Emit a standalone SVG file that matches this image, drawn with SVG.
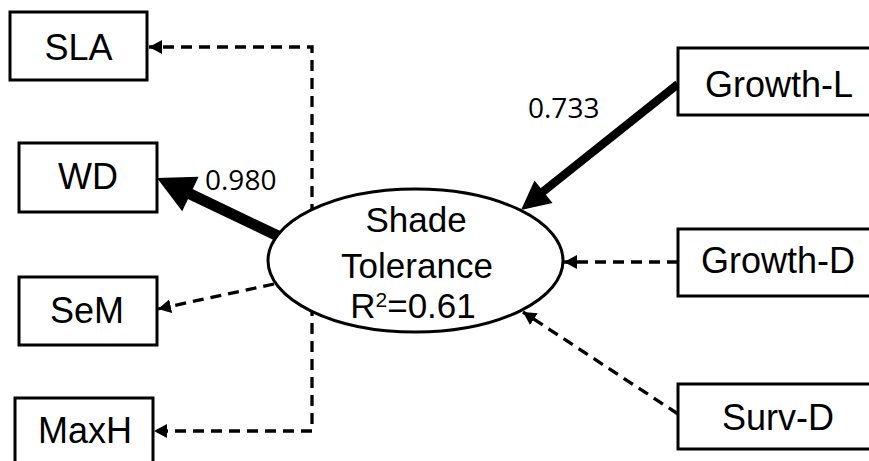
<svg xmlns="http://www.w3.org/2000/svg" width="869" height="461" viewBox="0 0 869 461">
<style>
.box{fill:#fff;stroke:#000;stroke-width:3}
.lbl{font-family:"Liberation Sans",Arial,sans-serif;font-size:36px;fill:#000;text-anchor:middle}
.el{font-family:"Liberation Sans",Arial,sans-serif;font-size:35px;fill:#000;text-anchor:middle}
.num{font-family:"Open Sans","Noto Sans",sans-serif;font-size:28px;fill:#000}
.dash{fill:none;stroke:#000;stroke-width:3.3;stroke-dasharray:11 7;marker-end:url(#ah)}
.thick{stroke:#000;fill:none}
.head{fill:#000}
</style>
<defs>
<marker id="ah" markerUnits="userSpaceOnUse" markerWidth="14" markerHeight="14" refX="13" refY="7" orient="auto">
<path d="M0,0 L13,7 L0,14 z" fill="#000"/>
</marker>
</defs>
<g id="connectors">
<path class="dash" d="M312,215 V47 H149"/>
<path class="dash" d="M312,305 V431 H154"/>
<path class="dash" d="M274,284 L158,309"/>
<path class="dash" d="M678,262 H564"/>
<path class="dash" d="M678,414 L523,312"/>
<path class="thick" stroke-width="11" d="M278,236 L186,192"/>
<polygon class="head" points="157,178 198.6,176.8 182.2,211.2"/>
<path class="thick" stroke-width="8.5" d="M678,84 L540,194"/>
<polygon class="head" points="521,210 534.5,180.5 552.5,203"/>
</g>
<g id="SLA"><rect class="box" x="10" y="12" width="137" height="68"/><text class="lbl" x="78.5" y="60">SLA</text></g>
<g id="WD"><rect class="box" x="19" y="143" width="138" height="69"/><text class="lbl" x="88" y="189">WD</text></g>
<g id="SeM"><rect class="box" x="19" y="277" width="138" height="68"/><text class="lbl" x="87" y="323">SeM</text></g>
<g id="MaxH"><rect class="box" x="15" y="398" width="138" height="80"/><text class="lbl" x="85" y="443">MaxH</text></g>
<g id="GrowthL"><rect class="box" x="678" y="48" width="210" height="67"/><text class="lbl" x="779" y="97">Growth-L</text></g>
<g id="GrowthD"><rect class="box" x="678" y="229" width="210" height="67"/><text class="lbl" x="778" y="273">Growth-D</text></g>
<g id="SurvD"><rect class="box" x="678" y="384" width="210" height="65"/><text class="lbl" x="778" y="430">Surv-D</text></g>
<g id="ShadeTolerance">
<ellipse cx="415.5" cy="260.5" rx="147.5" ry="71.5" fill="#fff" stroke="#000" stroke-width="3"/>
<text class="el" x="416" y="232">Shade</text>
<text class="el" x="417" y="278">Tolerance</text>
<text class="el" x="413" y="318">R<tspan font-size="21" dy="-11">2</tspan><tspan dy="11">=0.61</tspan></text>
</g>
<g id="labels">
<text class="num" x="205" y="190">0.980</text>
<text class="num" x="528" y="118">0.733</text>
</g>
</svg>
